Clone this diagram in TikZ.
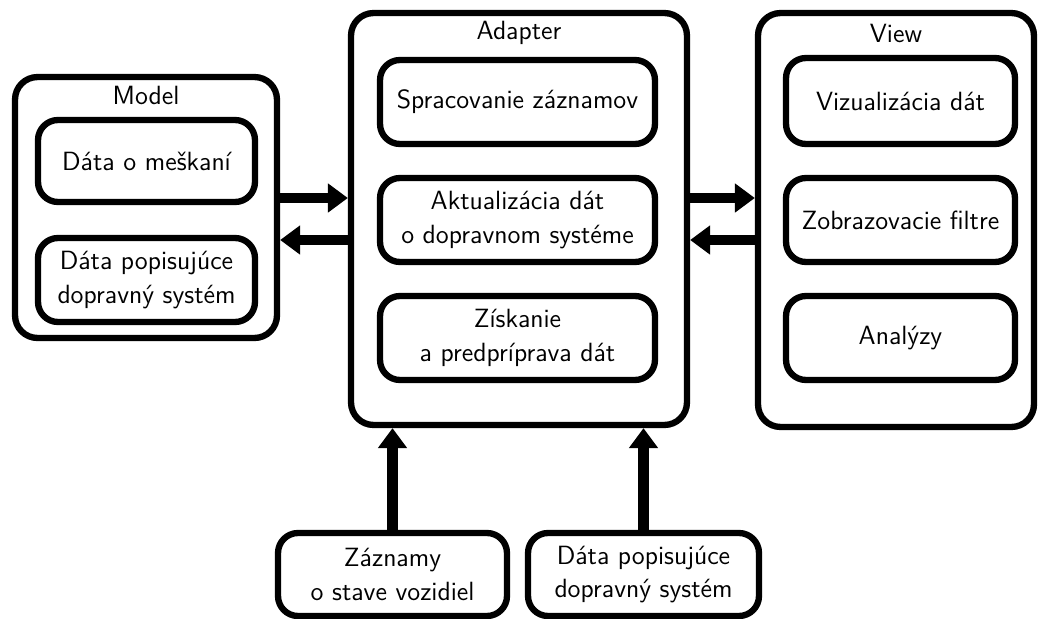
\documentclass[tikz,border=0pt]{standalone}
\usepackage{tikz}
\usetikzlibrary{arrows.meta,positioning}
\renewcommand{\familydefault}{\sfdefault}

\begin{document}
\begin{tikzpicture}[x=0.02cm, y=-0.02cm]
        \tikzstyle{outer}=[draw, line width=3.6pt, rounded corners=0.45cm]
        \tikzstyle{inner}=[draw, line width=3.6pt, rounded corners=0.4cm, align=center, font=\fontsize{15}{19}\selectfont]
        \tikzstyle{title}=[font=\fontsize{15}{19}\selectfont]
        \tikzstyle{flow}=[line width=6.2pt, -{Triangle[width=0.56cm,length=0.4cm]}]

        \useasboundingbox (0,0) rectangle (1042,619);

        % Model
        \node[outer, minimum width=5.24cm, minimum height=5.22cm] (model) at (146,207.5) {};
        \node[title] (modeltitle) at (146,95) {Model};
        \node[inner, minimum width=4.34cm, minimum height=1.64cm] (m1) at (146.5,161) {Dáta o meškaní};
        \node[inner, minimum width=4.34cm, minimum height=1.68cm] (m2) at (146.5,280) {Dáta popisujúce\\dopravný systém};

        % Adapter
        \node[outer, minimum width=6.72cm, minimum height=8.24cm] (adapter) at (519,219) {};
        \node[title] (adaptertitle) at (519,33) {Adapter};
        \node[inner, minimum width=5.5cm, minimum height=1.68cm] (a1) at (517.5,102) {Spracovanie záznamov};
        \node[inner, minimum width=5.5cm, minimum height=1.68cm] (a2) at (517.5,220) {Aktualizácia dát\\o dopravnom systéme};
        \node[inner, minimum width=5.5cm, minimum height=1.68cm] (a3) at (517.5,338) {Získanie\\a predpríprava dát};

        % View
        \node[outer, minimum width=5.52cm, minimum height=8.28cm] (view) at (896,220) {};
        \node[title] (viewtitle) at (896,33) {View};
        \node[inner, minimum width=4.58cm, minimum height=1.72cm] (v1) at (900.5,101) {Vizualizácia dát};
        \node[inner, minimum width=4.58cm, minimum height=1.68cm] (v2) at (900.5,220) {Zobrazovacie filtre};
        \node[inner, minimum width=4.58cm, minimum height=1.68cm] (v3) at (900.5,338) {Analýzy};

        % Sources
        \node[inner, minimum width=4.58cm, minimum height=1.66cm] (b1) at (392.5,574.5) {Záznamy\\o stave vozidiel};
        \node[inner, minimum width=4.62cm, minimum height=1.66cm] (b2) at (643.5,574.5) {Dáta popisujúce\\dopravný systém};

        % Rows of the horizontal arrows
        \coordinate (rowA) at (0,198);
        \coordinate (rowB) at (0,240);

        \draw[flow] (model.east |- rowA) -- (adapter.west |- rowA);
        \draw[flow] (adapter.west |- rowB) -- (model.east |- rowB);
        \draw[flow] (adapter.east |- rowA) -- (view.west |- rowA);
        \draw[flow] (view.west |- rowB) -- (adapter.east |- rowB);

        \draw[flow] (b1.north) -- (b1.north |- adapter.south);
        \draw[flow] (b2.north) -- (b2.north |- adapter.south);
\end{tikzpicture}
\end{document}
